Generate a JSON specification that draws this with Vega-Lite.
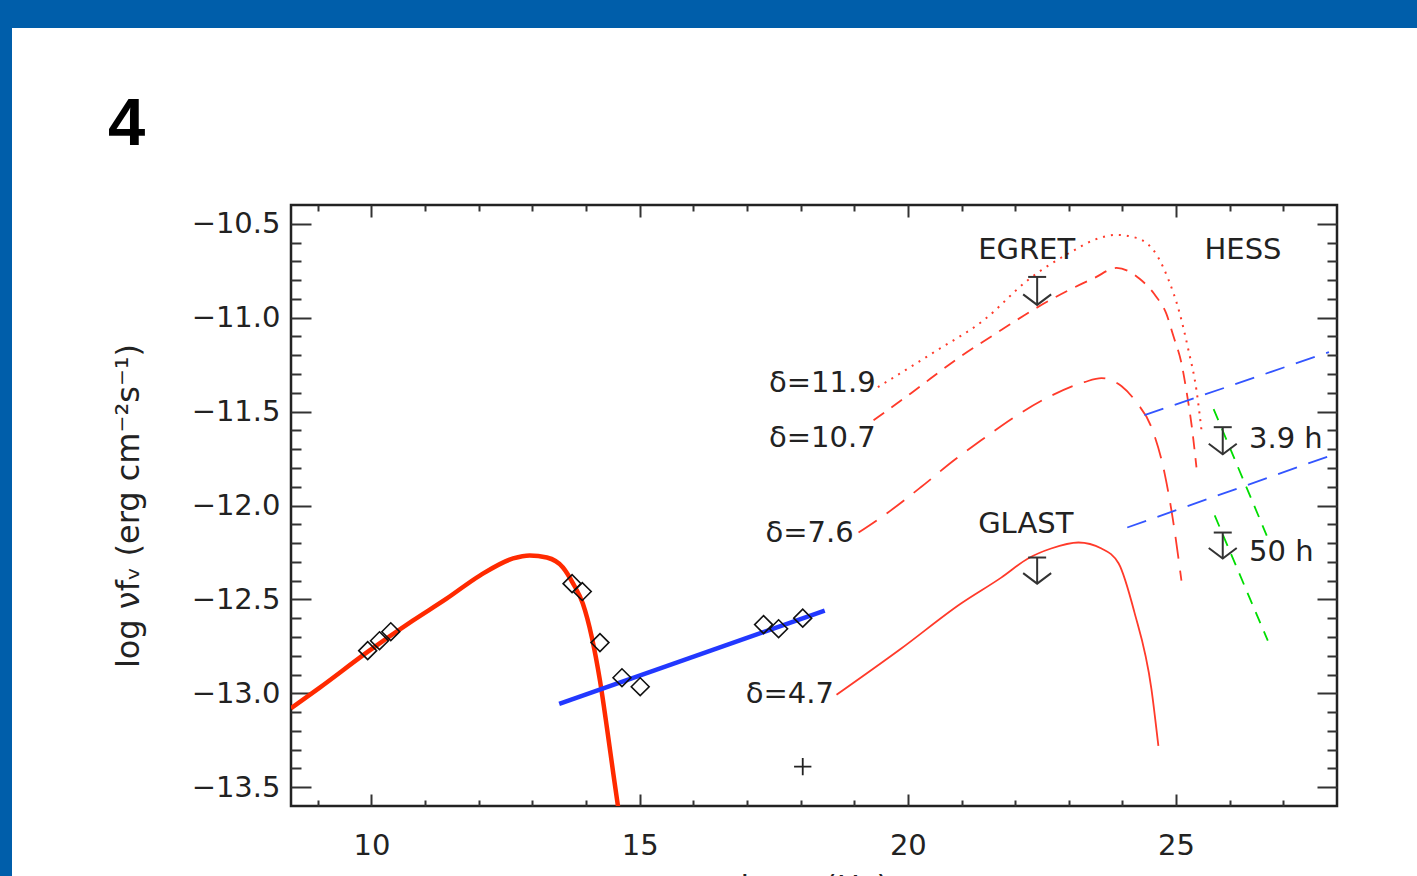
{
  "$schema": "https://vega.github.io/schema/vega-lite/v6.json",
  "background": "white",
  "padding": 0,
  "spacing": 0,
  "config": {
    "view": {"stroke": null},
    "axis": {"domain": false, "grid": false, "tickColor": "#333", "tickWidth": 2, "labelFont": "DejaVu Sans", "labelFontSize": 29, "labelColor": "#222", "titleFont": "DejaVu Sans", "titleFontSize": 30, "titleFontWeight": "normal", "titleColor": "#222", "labelOverlap": false, "labelFlush": false}
  },
  "datasets": {
    "sync": [
      {"x": 8.5, "y": -13.08}, {"x": 9.03, "y": -12.971}, {"x": 9.96, "y": -12.773}, {"x": 10.77, "y": -12.613},
      {"x": 11.4, "y": -12.496}, {"x": 12.02, "y": -12.373}, {"x": 12.64, "y": -12.282}, {"x": 12.95, "y": -12.266},
      {"x": 13.27, "y": -12.277}, {"x": 13.57, "y": -12.33}, {"x": 13.76, "y": -12.416}, {"x": 13.94, "y": -12.522},
      {"x": 14.11, "y": -12.704}, {"x": 14.26, "y": -12.933}, {"x": 14.39, "y": -13.184}, {"x": 14.51, "y": -13.43},
      {"x": 14.6, "y": -13.61}
    ],
    "blue": [{"x": 13.5, "y": -13.056}, {"x": 18.45, "y": -12.56}],
    "d47": [
      {"x": 18.67, "y": -13.008}, {"x": 19.87, "y": -12.763}, {"x": 20.99, "y": -12.522}, {"x": 21.74, "y": -12.384},
      {"x": 22.24, "y": -12.282}, {"x": 22.67, "y": -12.229}, {"x": 23.18, "y": -12.197}, {"x": 23.61, "y": -12.229},
      {"x": 23.93, "y": -12.309}, {"x": 24.22, "y": -12.565}, {"x": 24.54, "y": -12.976}, {"x": 24.67, "y": -13.28}
    ],
    "d76": [
      {"x": 19.08, "y": -12.144}, {"x": 19.63, "y": -12.037}, {"x": 20.24, "y": -11.903}, {"x": 20.86, "y": -11.759},
      {"x": 21.42, "y": -11.642}, {"x": 21.98, "y": -11.53}, {"x": 22.62, "y": -11.423}, {"x": 23.29, "y": -11.343},
      {"x": 23.61, "y": -11.322}, {"x": 23.98, "y": -11.364}, {"x": 24.26, "y": -11.45}, {"x": 24.54, "y": -11.583},
      {"x": 24.79, "y": -11.834}, {"x": 24.92, "y": -12.037}, {"x": 25.1, "y": -12.4}
    ],
    "d107": [
      {"x": 19.36, "y": -11.546}, {"x": 20.06, "y": -11.402}, {"x": 20.94, "y": -11.215}, {"x": 21.74, "y": -11.066},
      {"x": 22.36, "y": -10.954}, {"x": 23.01, "y": -10.852}, {"x": 23.48, "y": -10.788}, {"x": 23.89, "y": -10.735},
      {"x": 24.32, "y": -10.793}, {"x": 24.62, "y": -10.884}, {"x": 24.82, "y": -10.98}, {"x": 24.95, "y": -11.098},
      {"x": 25.1, "y": -11.242}, {"x": 25.2, "y": -11.402}, {"x": 25.29, "y": -11.573}, {"x": 25.38, "y": -11.797}
    ],
    "d119": [
      {"x": 19.44, "y": -11.37}, {"x": 20.49, "y": -11.183}, {"x": 21.42, "y": -11.012}, {"x": 22.24, "y": -10.799},
      {"x": 23.05, "y": -10.649}, {"x": 23.48, "y": -10.585}, {"x": 23.89, "y": -10.559}, {"x": 24.26, "y": -10.575},
      {"x": 24.67, "y": -10.681}, {"x": 24.86, "y": -10.799}, {"x": 25.05, "y": -10.959}, {"x": 25.23, "y": -11.172},
      {"x": 25.38, "y": -11.386}, {"x": 25.48, "y": -11.615}
    ],
    "blued": [
      {"s": "a", "x": 24.41, "y": -11.519}, {"s": "a", "x": 27.85, "y": -11.183},
      {"s": "b", "x": 24.09, "y": -12.117}, {"s": "b", "x": 28.0, "y": -11.722}
    ],
    "green": [
      {"s": "a", "x": 25.7, "y": -11.487}, {"s": "a", "x": 26.69, "y": -12.16},
      {"s": "b", "x": 25.72, "y": -12.053}, {"s": "b", "x": 26.71, "y": -12.72}
    ],
    "obs": [
      {"x": 9.93, "y": -12.773}, {"x": 10.15, "y": -12.72}, {"x": 10.36, "y": -12.672},
      {"x": 13.74, "y": -12.416}, {"x": 13.93, "y": -12.458}, {"x": 14.26, "y": -12.73}, {"x": 14.67, "y": -12.917}, {"x": 15.01, "y": -12.965},
      {"x": 17.31, "y": -12.634}, {"x": 17.59, "y": -12.656}, {"x": 18.04, "y": -12.6}
    ],
    "plus": [{"x": 18.04, "y": -13.39}],
    "limits": [
      {"x": 22.41, "y": -10.783, "y2": -10.932}, {"x": 22.41, "y": -12.277, "y2": -12.416},
      {"x": 25.87, "y": -11.583, "y2": -11.727}, {"x": 25.87, "y": -12.144, "y2": -12.282}
    ],
    "dlabels": [
      {"x": 19.4, "y": -11.349, "t": "δ=11.9"}, {"x": 19.4, "y": -11.642, "t": "δ=10.7"},
      {"x": 18.99, "y": -12.149, "t": "δ=7.6"}, {"x": 18.62, "y": -13.003, "t": "δ=4.7"}
    ],
    "ilabels": [
      {"x": 21.31, "y": -10.639, "t": "EGRET"}, {"x": 21.31, "y": -12.096, "t": "GLAST"},
      {"x": 25.53, "y": -10.639, "t": "HESS"}, {"x": 26.36, "y": -11.647, "t": "3.9 h"}, {"x": 26.36, "y": -12.245, "t": "50 h"}
    ],
    "one": [{"k": 1}]
  },
  "vconcat": [
    {
      "width": 1417, "height": 28,
      "view": {"fill": "#005EAA", "stroke": null},
      "data": {"name": "one"},
      "mark": {"type": "rect", "color": "#005EAA"},
      "encoding": {}
    },
    {
      "hconcat": [
        {
          "width": 12, "height": 955,
          "view": {"fill": "#005EAA", "stroke": null},
          "data": {"name": "one"},
          "mark": {"type": "rect", "color": "#005EAA"},
          "encoding": {}
        },
        {
          "width": 1046, "height": 601,
          "view": {"stroke": "#222", "strokeWidth": 2.5},
          "title": {"text": "4", "anchor": "start", "frame": "group", "dx": -183, "offset": 45, "fontSize": 67, "font": "Liberation Sans", "fontWeight": "bold", "color": "#000"},
          "encoding": {
            "x": {"field": "x", "type": "quantitative", "scale": {"domain": [8.5, 28], "nice": false, "zero": false}, "axis": null},
            "y": {"field": "y", "type": "quantitative", "scale": {"domain": [-13.6, -10.4], "nice": false, "zero": false}, "axis": null}
          },
          "layer": [
            {
              "data": {"name": "sync"},
              "mark": {"type": "line", "color": "#FF2A00", "strokeWidth": 4.5, "interpolate": "monotone", "clip": true},
              "encoding": {
                "x": {"field": "x", "type": "quantitative", "scale": {"domain": [8.5, 28], "nice": false, "zero": false},
                  "axis": {"orient": "bottom", "values": [10, 15, 20, 25], "format": "d", "tickSize": -12, "labelPadding": 37, "title": "log ν (Hz)", "titleFontSize": 31, "titlePadding": 12}},
                "y": {"field": "y", "type": "quantitative", "scale": {"domain": [-13.6, -10.4], "nice": false, "zero": false},
                  "axis": {"orient": "left", "values": [-10.5, -11, -11.5, -12, -12.5, -13, -13.5], "format": ".1f", "tickSize": -20, "labelPadding": 31, "title": "log νfᵥ (erg cm⁻²s⁻¹)", "titleFontSize": 32, "titlePadding": 46}}
              }
            },
            {
              "data": {"name": "blue"},
              "mark": {"type": "line", "color": "#2238FF", "strokeWidth": 4.5, "clip": true},
              "encoding": {
                "x": {"field": "x", "type": "quantitative", "scale": {"domain": [8.5, 28], "nice": false, "zero": false},
                  "axis": {"orient": "bottom", "values": [9, 11, 12, 13, 14, 16, 17, 18, 19, 21, 22, 23, 24, 26, 27], "tickSize": -6, "labels": false, "title": null}},
                "y": {"field": "y", "type": "quantitative", "scale": {"domain": [-13.6, -10.4], "nice": false, "zero": false},
                  "axis": {"orient": "left", "values": [-10.6, -10.7, -10.8, -10.9, -11.1, -11.2, -11.3, -11.4, -11.6, -11.7, -11.8, -11.9, -12.1, -12.2, -12.3, -12.4, -12.6, -12.7, -12.8, -12.9, -13.1, -13.2, -13.3, -13.4], "tickSize": -10, "labels": false, "title": null}}
              }
            },
            {
              "data": {"name": "d47"},
              "mark": {"type": "line", "color": "#FF3A2A", "strokeWidth": 1.8, "interpolate": "monotone", "clip": true},
              "encoding": {
                "x": {"field": "x", "type": "quantitative", "scale": {"domain": [8.5, 28], "nice": false, "zero": false},
                  "axis": {"orient": "top", "values": [10, 15, 20, 25], "tickSize": -12, "labels": false, "title": null}},
                "y": {"field": "y", "type": "quantitative", "scale": {"domain": [-13.6, -10.4], "nice": false, "zero": false},
                  "axis": {"orient": "right", "values": [-10.5, -11, -11.5, -12, -12.5, -13, -13.5], "tickSize": -20, "labels": false, "title": null}}
              }
            },
            {
              "data": {"name": "d76"},
              "mark": {"type": "line", "color": "#FF3A2A", "strokeWidth": 1.8, "strokeDash": [22, 12], "interpolate": "monotone", "clip": true},
              "encoding": {
                "x": {"field": "x", "type": "quantitative", "scale": {"domain": [8.5, 28], "nice": false, "zero": false},
                  "axis": {"orient": "top", "values": [9, 11, 12, 13, 14, 16, 17, 18, 19, 21, 22, 23, 24, 26, 27], "tickSize": -6, "labels": false, "title": null}},
                "y": {"field": "y", "type": "quantitative", "scale": {"domain": [-13.6, -10.4], "nice": false, "zero": false},
                  "axis": {"orient": "right", "values": [-10.6, -10.7, -10.8, -10.9, -11.1, -11.2, -11.3, -11.4, -11.6, -11.7, -11.8, -11.9, -12.1, -12.2, -12.3, -12.4, -12.6, -12.7, -12.8, -12.9, -13.1, -13.2, -13.3, -13.4], "tickSize": -10, "labels": false, "title": null}}
              }
            },
            {
              "data": {"name": "d107"},
              "mark": {"type": "line", "color": "#FF3A2A", "strokeWidth": 1.8, "strokeDash": [13, 9], "interpolate": "monotone", "clip": true}
            },
            {
              "data": {"name": "d119"},
              "mark": {"type": "line", "color": "#FF3A2A", "strokeWidth": 2, "strokeDash": [2, 6], "interpolate": "monotone", "clip": true}
            },
            {
              "data": {"name": "blued"},
              "mark": {"type": "line", "color": "#3355FF", "strokeWidth": 1.8, "strokeDash": [20, 12], "clip": true},
              "encoding": {"detail": {"field": "s"}}
            },
            {
              "data": {"name": "green"},
              "mark": {"type": "line", "color": "#00DD00", "strokeWidth": 1.8, "strokeDash": [12, 9], "clip": true},
              "encoding": {"detail": {"field": "s"}}
            },
            {
              "data": {"name": "obs"},
              "mark": {"type": "point", "shape": "diamond", "filled": false, "color": "#111", "size": 320, "strokeWidth": 1.6, "opacity": 1}
            },
            {
              "data": {"name": "plus"},
              "mark": {"type": "point", "shape": "M-1,0L1,0M0,-1L0,1", "filled": false, "color": "#222", "size": 300, "strokeWidth": 1.8, "opacity": 1}
            },
            {
              "data": {"name": "limits"},
              "mark": {"type": "rule", "color": "#333", "strokeWidth": 2},
              "encoding": {"y2": {"field": "y2"}}
            },
            {
              "data": {"name": "limits"},
              "mark": {"type": "point", "shape": "M-1,0L1,0", "filled": false, "color": "#333", "size": 324, "strokeWidth": 2, "opacity": 1}
            },
            {
              "data": {"name": "limits"},
              "mark": {"type": "point", "shape": "M-1,-0.75L0,0L1,-0.75", "filled": false, "color": "#333", "size": 784, "strokeWidth": 2, "opacity": 1},
              "encoding": {
                "y": {"field": "y2", "type": "quantitative", "scale": {"domain": [-13.6, -10.4], "nice": false, "zero": false}, "axis": null}
              }
            },
            {
              "data": {"name": "dlabels"},
              "mark": {"type": "text", "align": "right", "baseline": "middle", "font": "DejaVu Sans", "fontSize": 29, "color": "#222"},
              "encoding": {"text": {"field": "t"}}
            },
            {
              "data": {"name": "ilabels"},
              "mark": {"type": "text", "align": "left", "baseline": "middle", "font": "DejaVu Sans", "fontSize": 29, "color": "#222"},
              "encoding": {"text": {"field": "t"}}
            }
          ],
          "resolve": {"axis": {"x": "independent", "y": "independent"}}
        }
      ],
      "spacing": 279,
      "bounds": "flush",
      "center": true
    }
  ]
}
